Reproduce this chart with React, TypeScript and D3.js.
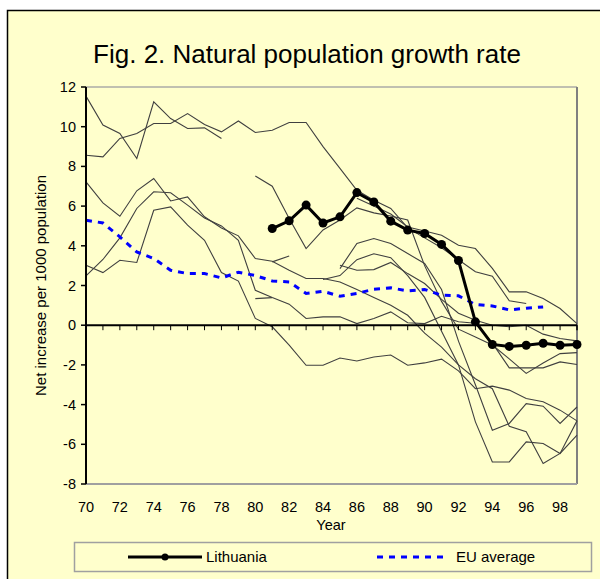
import React from "react";
import * as d3 from "d3";

const W = 600;
const H = 579;

const yearsAll = d3.range(70, 100);
const yTicks = [12, 10, 8, 6, 4, 2, 0, -2, -4, -6, -8];
const xTickLabels = [70, 72, 74, 76, 78, 80, 82, 84, 86, 88, 90, 92, 94, 96, 98];

const lithuaniaStart = 81;
const lithuania = [4.87, 5.26, 6.05, 5.15, 5.46, 6.68, 6.21, 5.24, 4.79, 4.62, 4.07, 3.26, 0.17, -0.97, -1.07, -1.01, -0.91, -1.01, -0.97];

const euStart = 70;
const euAverage = [5.29, 5.15, 4.45, 3.69, 3.36, 2.77, 2.6, 2.6, 2.38, 2.67, 2.5, 2.23, 2.18, 1.6, 1.71, 1.46, 1.6, 1.81, 1.88, 1.73, 1.8, 1.51, 1.48, 1.04, 0.97, 0.77, 0.86, 0.92];

// Other countries (thin grey lines): [start year, values]
const seriesA = [11.54, 10.08, 9.66, 8.4, 11.25, 10.41, 9.91, 9.94, 9.41];
const poland = [8.56, 8.48, 9.41, 9.66, 10.16, 10.16, 10.66, 10.11, 9.74, 10.29, 9.71, 9.82, 10.21, 10.21, 9.0, 7.9, 6.8, 6.3, 5.88, 4.9, 4.4, 3.9, 3.3, 2.69, 2.47, 1.23, 1.09];
const slovakia = [6.4, 6.0, 5.6, 4.95, 4.75, 4.53, 4.03, 3.86, 2.86, 1.68, 1.68, 1.34, 0.84, 0.08];
const romania = [7.52, 7.0, 5.37, 3.86, 4.8, 5.3, 5.91, 5.66, 5.5, 5.3, 3.0, 1.2, -0.2, -0.6, -1.0, -1.7, -2.43, -1.9, -1.43, -1.38];
const bulgaria = [7.22, 6.16, 5.49, 6.77, 7.39, 6.26, 6.46, 5.46, 4.9, 4.5, 3.36, 3.22, 2.77, 2.35, 2.35, 2.18, 1.8, 1.4, 1.0, 0.5, -0.4, -1.1, -2.0, -2.7, -3.2, -5.09, -5.37, -6.97, -6.46, -4.82];
const hungary = [3.02, 2.65, 3.27, 3.16, 5.79, 5.96, 5.04, 4.28, 2.65, 2.22, 0.34, -0.08, -1.0, -2.02, -2.02, -1.65, -1.8, -1.6, -1.5, -2.02, -1.9, -1.71, -2.3, -3.2, -3.07, -3.27, -3.69, -3.86, -4.28, -4.82];
const czech = [2.48, 3.31, 4.4, 5.88, 6.72, 6.67, 6.05, 5.4, 5.0, 4.28, 1.76, 1.39, 1.06, 0.34, 0.42, 0.42, 0.08, 0.34, 0.67, 0.12, 0.08, 0.45, 0.17, 0.1, -0.9, -2.15, -2.15, -2.15, -1.85, -1.98];
const slovenia = [3.02, 2.77, 2.8, 3.16, 2.6, 2.1, 1.3, 0.6, 0.25, 0.0, -0.08, 0.0, -0.45, -0.67, -0.79];
const estonia = [2.85, 4.12, 4.37, 4.12, 3.61, 3.11, 1.8, -0.8, -3.0, -5.29, -4.95, -3.95, -4.08, -4.95, -4.12];
const latvia = [2.3, 2.5, 3.3, 3.6, 3.4, 2.5, 1.4, -0.3, -2.0, -4.87, -6.89, -6.89, -5.88, -5.96, -6.46, -5.54];
const shortA = [1.34, 1.39];
const shortB = [3.19, 3.49];

const greySeries: [number, number[]][] = [
  [70, seriesA],
  [70, poland],
  [86, slovakia],
  [80, romania],
  [70, bulgaria],
  [70, hungary],
  [70, czech],
  [85, slovenia],
  [85, estonia],
  [84, latvia],
  [80, shortA],
  [81, shortB],
];

const toPoints = (start: number, vals: number[]) => vals.map((v, i) => ({ year: start + i, v }));

export default function App() {
  const left = 86, right = 577, top = 87, bottom = 484;
  const x = d3.scaleLinear().domain([70, 99]).range([left, right]);
  const y = d3.scaleLinear().domain([-8, 12]).range([bottom, top]);
  const line = d3
    .line<{ year: number; v: number }>()
    .x((d) => x(d.year))
    .y((d) => y(d.v));

  const bg = "#FFFFCC";
  const font = "Liberation Sans, Arial, sans-serif";
  const lith = toPoints(lithuaniaStart, lithuania);
  const eu = toPoints(euStart, euAverage);

  return (
    <svg
      width={W}
      height={H}
      style={{ position: "absolute", left: 0, top: 0, background: "#fff" }}
      fontFamily={font}
    >
      <rect x={7.5} y={10.5} width={W + 10} height={H + 10} fill={bg} stroke="#000" strokeWidth={1.5} />
      <text x={307} y={63} textAnchor="middle" fontSize={26} fill="#000">
        Fig. 2. Natural population growth rate
      </text>

      {/* plot frame */}
      <line x1={left} x2={right} y1={top} y2={top} stroke="#c0c0b0" strokeWidth={2} />
      <line x1={right} x2={right} y1={top} y2={bottom} stroke="#808080" strokeWidth={2} />
      <line x1={left} x2={right} y1={bottom} y2={bottom} stroke="#a0a0a0" strokeWidth={2} />

      {/* grey lines */}
      {greySeries.map(([s, vals], i) => (
        <path key={i} d={line(toPoints(s, vals)) || ""} fill="none" stroke="#404040" strokeWidth={1.1} />
      ))}

      {/* EU average */}
      <path d={line(eu) || ""} fill="none" stroke="#0000FF" strokeWidth={3} strokeDasharray="6,6" />

      {/* Lithuania */}
      <path d={line(lith) || ""} fill="none" stroke="#000" strokeWidth={3} />
      {lith.map((d, i) => (
        <circle key={i} cx={x(d.year)} cy={y(d.v)} r={4.5} fill="#000" />
      ))}

      {/* axes */}
      <line x1={left} x2={left} y1={top} y2={bottom} stroke="#000" strokeWidth={2} />
      <line x1={left} x2={right} y1={y(0)} y2={y(0)} stroke="#000" strokeWidth={2} />
      {yearsAll.map((yr) => (
        <line key={yr} x1={x(yr)} x2={x(yr)} y1={y(0)} y2={y(0) + 5} stroke="#000" strokeWidth={1} />
      ))}
      <line x1={x(99)} x2={x(99)} y1={y(0)} y2={y(0) + 5} stroke="#000" strokeWidth={1} />
      {yTicks.map((t) => (
        <g key={t}>
          <line x1={left - 5} x2={left} y1={y(t)} y2={y(t)} stroke="#000" strokeWidth={1.5} />
          <text x={76} y={y(t) + 5} textAnchor="end" fontSize={14.5} fill="#000">
            {t}
          </text>
        </g>
      ))}
      {xTickLabels.map((t) => (
        <text key={t} x={x(t)} y={512} textAnchor="middle" fontSize={14.5} fill="#000">
          {t}
        </text>
      ))}
      <text x={331} y={530} textAnchor="middle" fontSize={14.5} fill="#000">
        Year
      </text>
      <text
        transform={`translate(46, ${(top + bottom) / 2}) rotate(-90)`}
        textAnchor="middle"
        fontSize={15}
        fill="#000"
      >
        Net increase per 1000 population
      </text>

      {/* legend */}
      <rect x={74.5} y={542.5} width={517} height={29} fill={bg} stroke="#a0a0a0" strokeWidth={1.5} />
      <line x1={128} x2={202} y1={557} y2={557} stroke="#000" strokeWidth={3} />
      <circle cx={165} cy={557} r={3.5} fill="#000" />
      <text x={206} y={562} fontSize={15} fill="#000">
        Lithuania
      </text>
      <line x1={377} x2={446} y1={557} y2={557} stroke="#0000FF" strokeWidth={3} strokeDasharray="6,6" />
      <text x={456} y={562} fontSize={15} fill="#000">
        EU average
      </text>
    </svg>
  );
}
